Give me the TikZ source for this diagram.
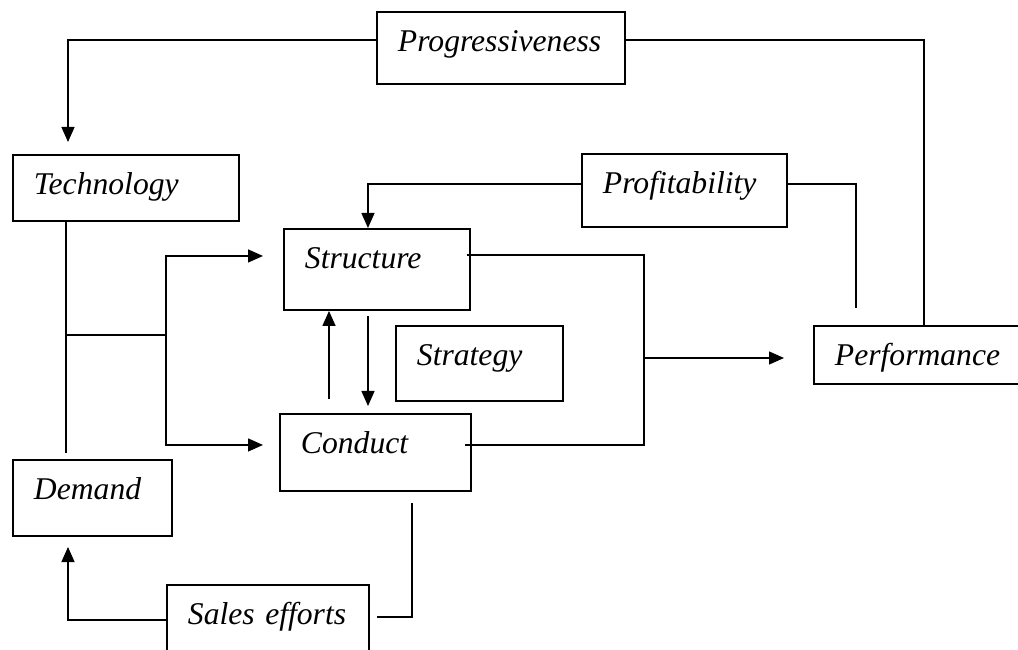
\documentclass[tikz,border=0pt]{standalone}
\usepackage{fontspec}
\setmainfont{Liberation Serif}
\usetikzlibrary{arrows.meta}

\tikzset{
    >={Triangle[length=0.3cm, width=0.26cm]},
    % box with its text at the top left corner
    modelbox/.style 2 args={draw, line width=1.1pt, anchor=north west, align=left,
        inner xsep=0.42cm, inner ysep=0pt,
        text width=#1, text height=0.8cm, text depth=#2,
        font=\fontsize{18}{22}\selectfont\itshape},
}

\begin{document}
\begin{tikzpicture}[thick]
        \useasboundingbox (0,0) rectangle (20.36,-13);

        % boxes
        \node [modelbox={4.12cm}{0.64cm}] (prog)   at (7.52,-0.22)  {Progressiveness};
        \node [modelbox={3.68cm}{0.52cm}] (tech)   at (0.24,-3.08)  {Technology};
        \node [modelbox={3.26cm}{0.66cm}] (prof)   at (11.62,-3.06) {Profitability};
        \node [modelbox={2.88cm}{0.82cm}] (struct) at (5.66,-4.56)  {Structure};
        \node [modelbox={2.50cm}{0.70cm}] (strat)  at (7.90,-6.50)  {Strategy};
        \node [modelbox={3.56cm}{0.36cm}] (perf)   at (16.26,-6.50) {Performance};
        \node [modelbox={2.98cm}{0.74cm}] (cond)   at (5.58,-8.26)  {Conduct};
        \node [modelbox={2.34cm}{0.72cm}] (dem)    at (0.24,-9.18)  {Demand};
        \node [modelbox={3.20cm}{0.80cm}] (sales)  at (3.32,-11.68) {Sales efforts};

        % free ends and bends
        \coordinate (techin)    at (1.36,-2.84);
        \coordinate (techfoot)  at (1.32,-9.06);
        \coordinate (branch)    at (3.32,-6.70);
        \coordinate (merge)     at (12.88,-7.16);
        \coordinate (profdrop)  at (17.12,-6.16);
        \coordinate (upfoot)    at (6.58,-7.98);
        \coordinate (downtop)   at (7.36,-6.32);
        \coordinate (demin)     at (1.36,-10.94);
        \coordinate (salesout)  at (7.54,-12.34);
        \coordinate (condfoot)  at (8.24,-10.06);

        % progressiveness loop
        \draw [->] ([yshift=0.16cm]prog.west) -| (techin);
        \draw ([yshift=0.16cm]prog.east) -| (perf.north);

        % technology and demand into structure and conduct
        \draw (tech.south -| techfoot) -- (techfoot);
        \draw (techfoot |- branch) -- (branch);
        \draw [->] (branch) |- ([xshift=-0.4cm, yshift=0.27cm]struct.west);
        \draw [->] (branch) |- ([xshift=-0.32cm, yshift=0.15cm]cond.west);

        % structure and conduct to performance
        \draw ([xshift=-0.08cm, yshift=0.29cm]struct.east) -| (merge)
            |- ([xshift=-0.14cm, yshift=0.15cm]cond.east);
        \draw [->] (merge) -- ([xshift=-0.58cm]perf.west |- merge);

        % profitability back to structure
        \draw [->] ([yshift=0.13cm]prof.west) -| ([xshift=-0.18cm]struct.north);
        \draw ([yshift=0.13cm]prof.east) -| (profdrop);

        % structure <-> conduct
        \draw [->] (upfoot) -- (struct.south -| upfoot);
        \draw [->] (downtop) -- ([yshift=0.14cm]cond.north -| downtop);

        % sales efforts
        \draw [->] ([yshift=0.1cm]sales.west) -| (demin);
        \draw (salesout) -| (condfoot);
      \end{tikzpicture}
\end{document}
